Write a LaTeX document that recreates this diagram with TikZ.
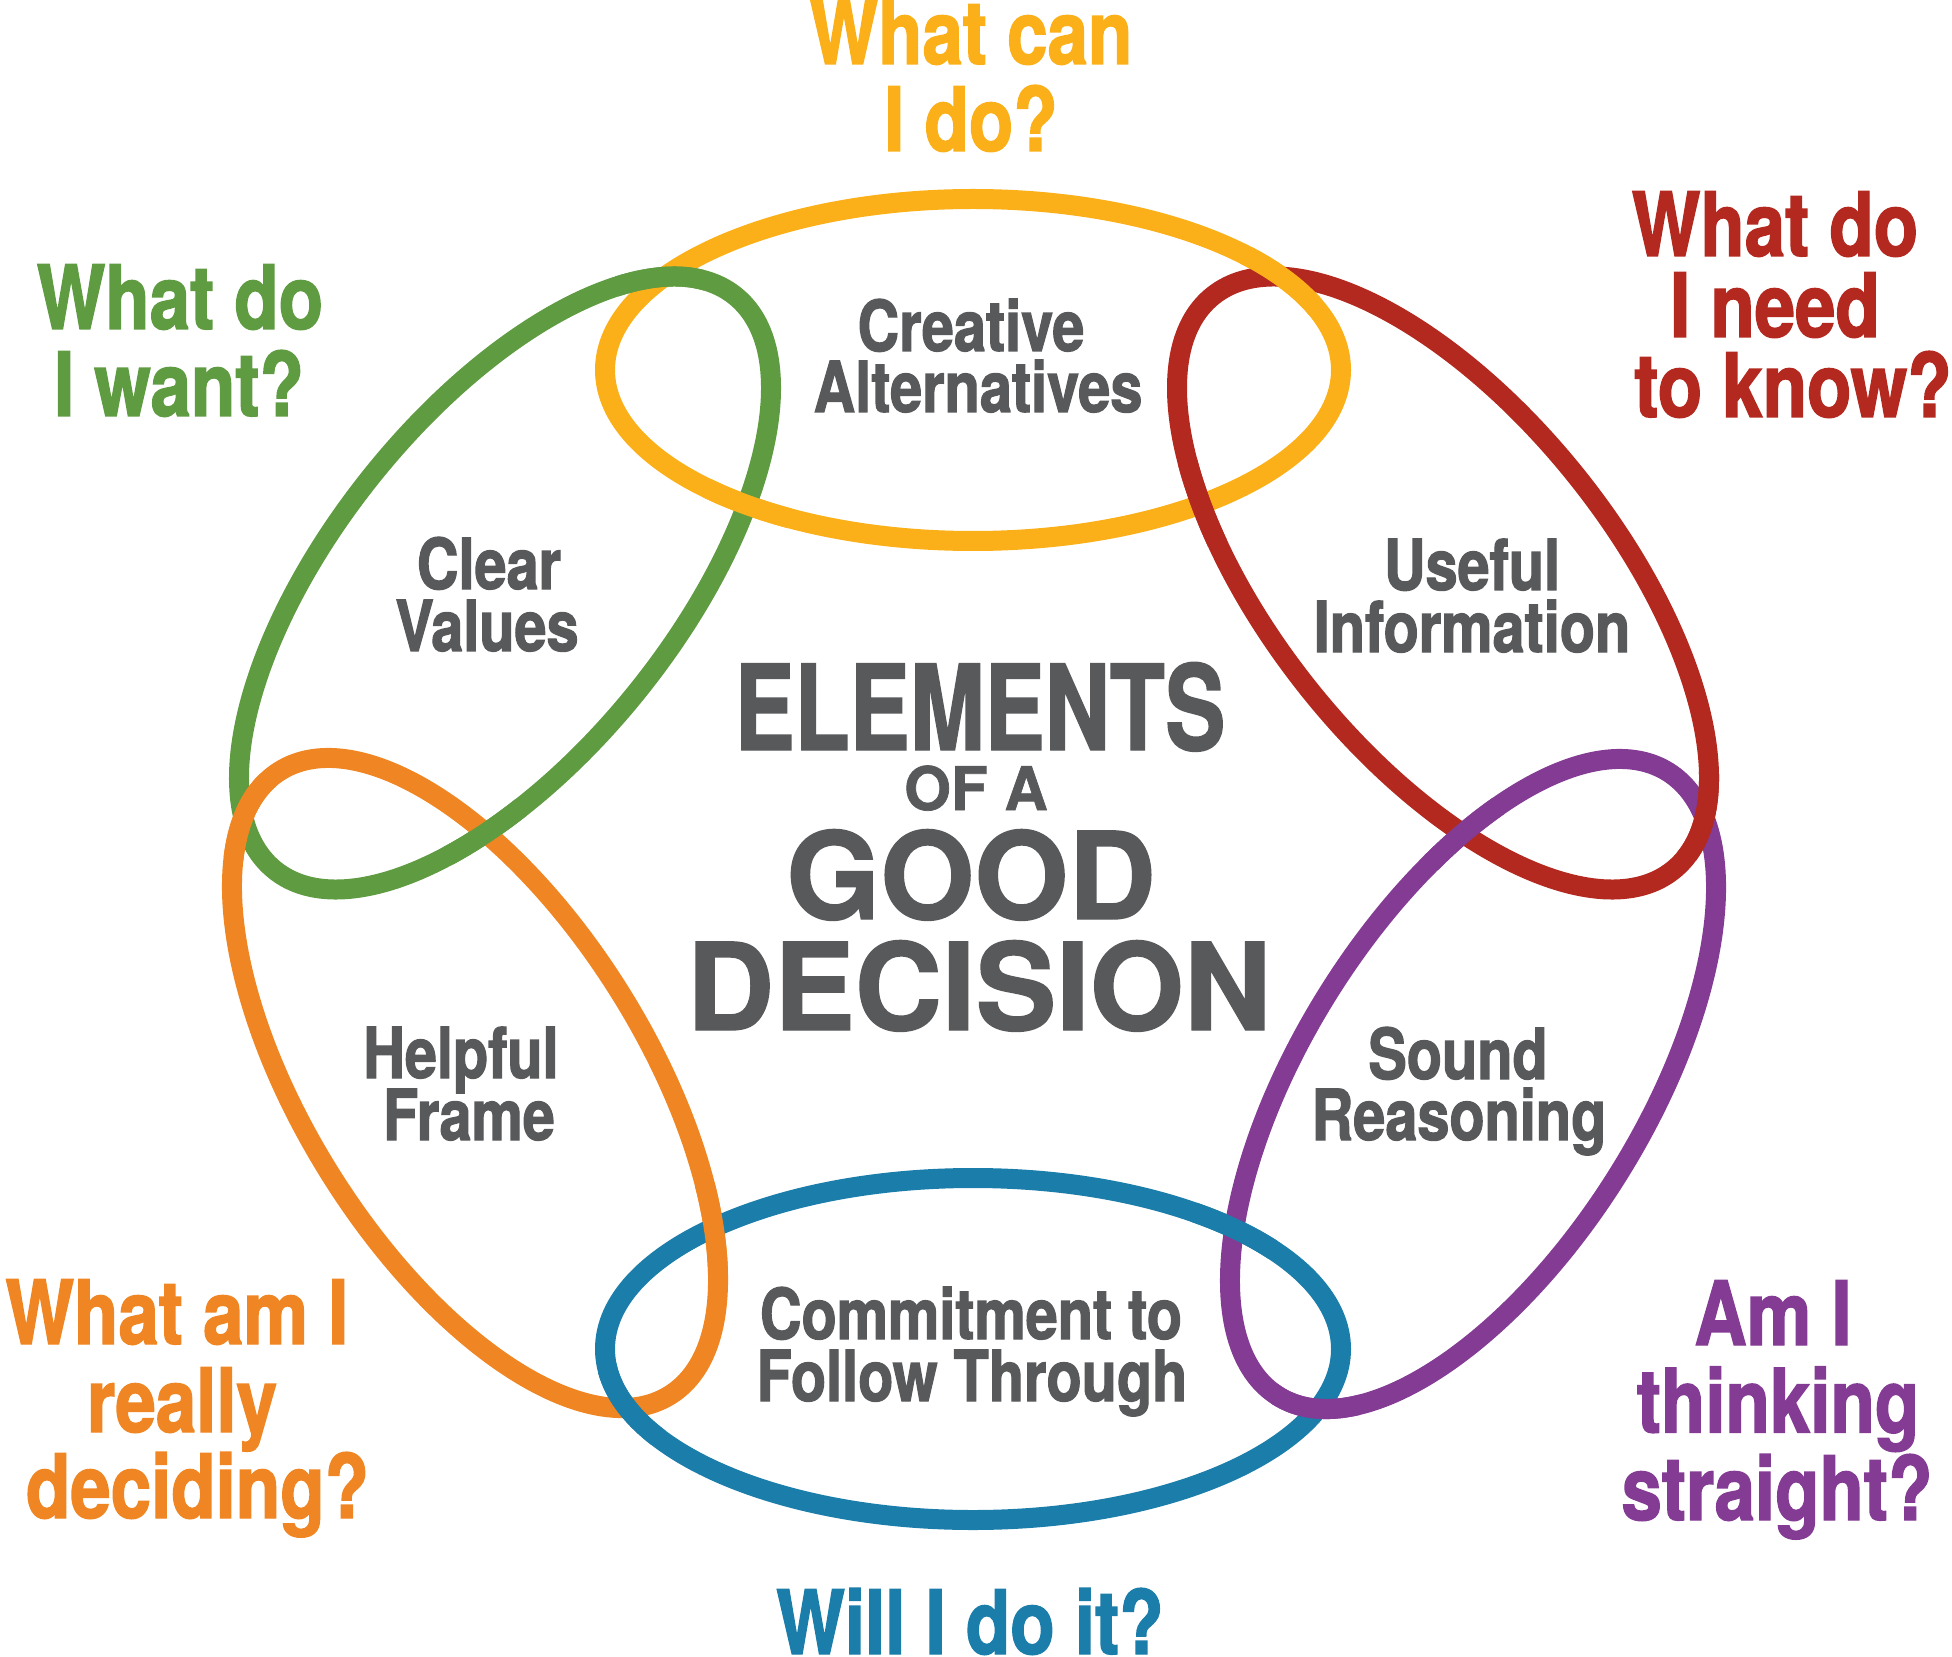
\documentclass[tikz,border=0pt]{standalone}
\usepackage{fontspec}
\newfontfamily\heros[FakeBold=1.2]{TeX Gyre Heros}
\newfontfamily\heroscn[FakeStretch=0.82,FakeBold=1.6]{TeX Gyre Heros}
\newfontfamily\heroscnx[FakeStretch=0.76,FakeBold=1.2]{TeX Gyre Heros}
\definecolor{cyel}{HTML}{FBB019}
\definecolor{cgrn}{HTML}{5F9B41}
\definecolor{cred}{HTML}{B3291F}
\definecolor{cpur}{HTML}{843B93}
\definecolor{cblu}{HTML}{1B7DA9}
\definecolor{corg}{HTML}{EF8623}
\definecolor{txtgray}{HTML}{58595B}
\tikzset{
  ring/.style={line width=.2cm},
  ringY/.style={draw=cyel, shift={(9.73,12.86)}},
  ringB/.style={draw=cblu, shift={(9.73,3.07)}},
  ringG/.style={draw=cgrn, shift={(5.05,10.73)}, rotate=51.3},
  ringR/.style={draw=cred, shift={(14.43,10.73)}, rotate=-51.3},
  ringO/.style={draw=corg, shift={(4.75,5.73)}, rotate=-58},
  ringP/.style={draw=cpur, shift={(14.73,5.72)}, rotate=58},
  ask/.style={font=\heroscn\bfseries\fontsize{25.2}{25}\selectfont, anchor=base, inner sep=0pt},
  elem/.style={font=\heroscn\bfseries\fontsize{20}{18}\selectfont, text=txtgray, anchor=base, inner sep=0pt},
}
\begin{document}
\begin{tikzpicture}
\useasboundingbox (0,0) rectangle (19.52,16.56);
\foreach \r in {ringY,ringG,ringO,ringB,ringP,ringR}
  \draw[ring,\r] (0,0) ellipse [x radius=3.68, y radius=1.71];
% over-crossings of the chain
\foreach \r/\x/\y in {ringG/6.60/13.765, ringY/7.47/11.49, ringO/2.43/8.40, ringG/4.85/8.235,
  ringO/7.14/4.29, ringB/6.27/2.49, ringB/12.35/4.28, ringP/13.16/2.49,
  ringP/14.64/8.23, ringR/17.05/8.39, ringY/12.82/13.765, ringR/12.01/11.535}
{
  \begin{scope}
    \clip (\x,\y) circle (.45);
    \draw[ring,\r] (0,0) ellipse [x radius=3.68, y radius=1.71];
  \end{scope}
}

\foreach \n/\x/\y/\t in {crea/9.71/13.05/Creative, alt/9.78/12.44/Alternatives,
  clear/4.89/10.67/Clear, val/4.87/10.05/Values,
  use/14.72/10.66/Useful, info/14.72/10.04/Information,
  help/4.61/5.78/Helpful, frame/4.69/5.16/Frame,
  sound/14.58/5.77/Sound, reas/14.59/5.16/Reasoning,
  comm/9.71/3.17/Commitment to, foll/9.72/2.55/Follow Through}
  \node[elem] (lbl-\n) at (\x,\y) {\t};

\foreach \n/\c/\x/\y/\t in {y1/cyel/9.71/15.92/What can, y2/cyel/9.71/15.05/I do?,
  g1/cgrn/1.80/13.27/What do, g2/cgrn/1.79/12.40/I want?,
  r1/cred/17.75/14.00/What do, r2/cred/17.75/13.19/I need, r3/cred/17.93/12.39/to know?,
  o1/corg/1.77/3.12/What am I, o2/corg/1.82/2.24/really, o3/corg/1.975/1.38/deciding?,
  p1/cpur/17.73/3.11/Am I, p2/cpur/17.78/2.235/thinking, p3/cpur/17.77/1.36/straight?,
  b1/cblu/9.70/0.02/Will I do it?}
  \node[ask, text=\c] (ask-\n) at (\x,\y) {\t};

\node[anchor=base, inner sep=0pt, text=txtgray, font=\heroscnx\bfseries\fontsize{33.7}{34}\selectfont] (elements) at (9.80,9.06) {ELEMENTS};
\node[anchor=base, inner sep=0pt, text=txtgray, font=\heros\bfseries\fontsize{17.1}{17}\selectfont] (ofa) at (9.76,8.46) {OF A};
\node[anchor=base, inner sep=0pt, text=txtgray, font=\heros\bfseries\fontsize{34.4}{35}\selectfont] (good) at (9.71,7.37) {GOOD};
\node[anchor=base, inner sep=0pt, text=txtgray, font=\heros\bfseries\fontsize{34.4}{35}\selectfont] (decision) at (9.79,6.26) {DECISION};
\end{tikzpicture}
\end{document}
